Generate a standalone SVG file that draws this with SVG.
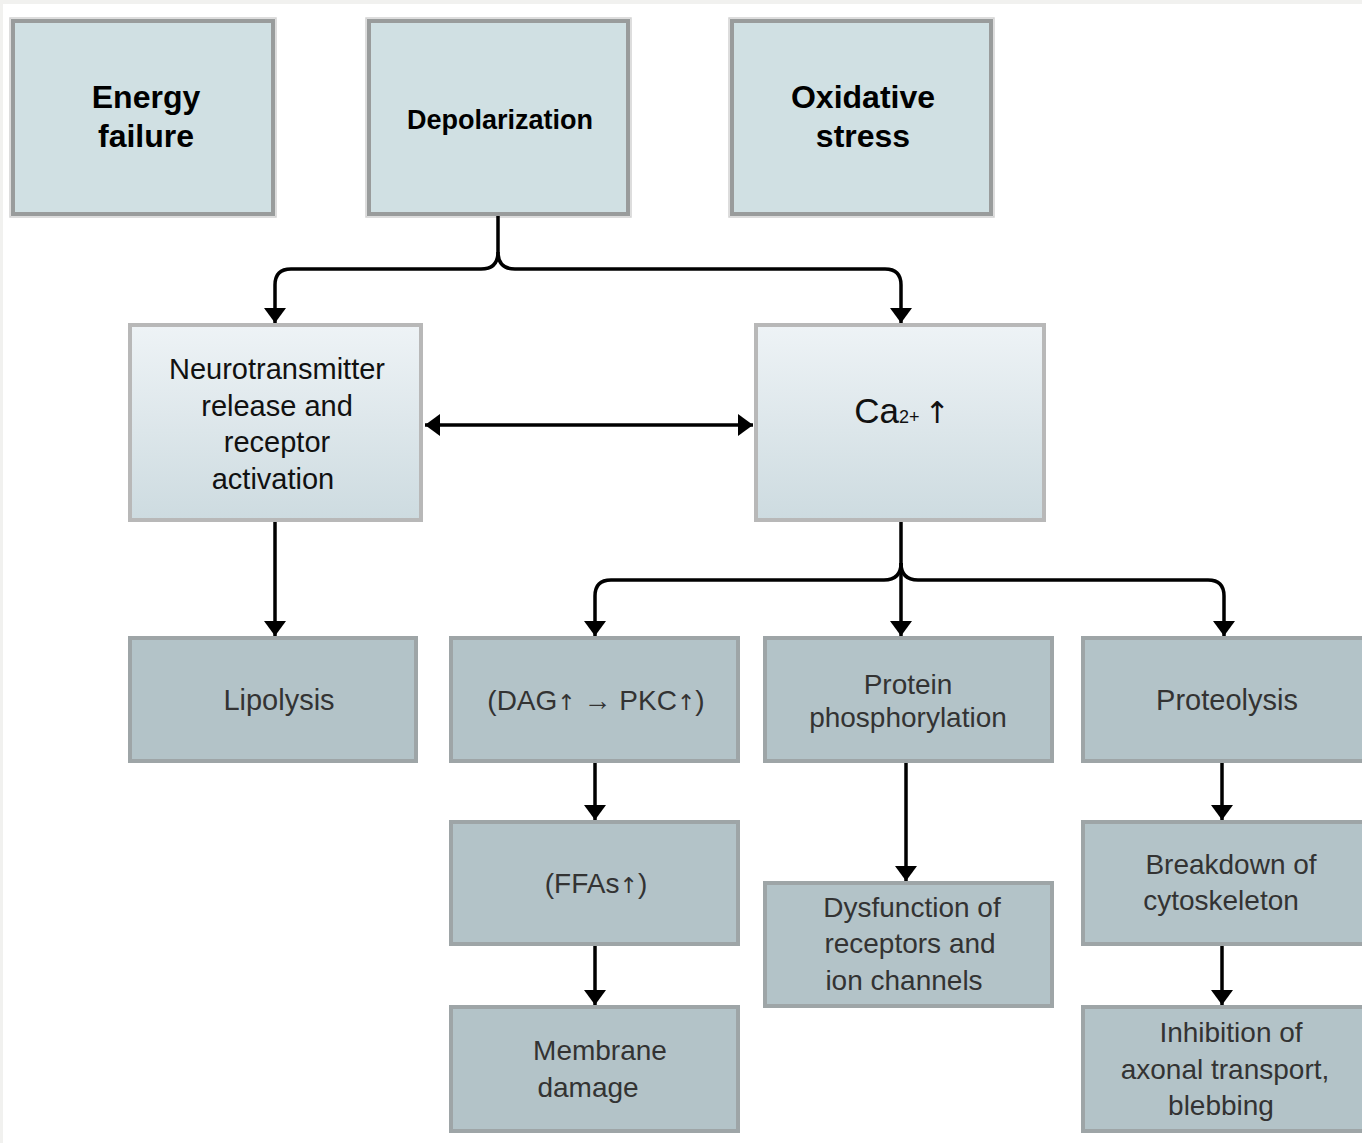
<svg xmlns="http://www.w3.org/2000/svg" width="1362" height="1143" viewBox="0 0 1362 1143">
<defs>
<style>
.top{fill:#d0e0e3;stroke:#999c9c;stroke-width:4}
.halo{fill:none;stroke:#d2d2d2;stroke-width:1.5}
.mid{fill:url(#g);stroke:#b8b8b8;stroke-width:4}
.low{fill:#b3c3c8;stroke:#9ea5a7;stroke-width:4}
.tb{font-family:"Liberation Sans",Arial,sans-serif;font-weight:bold;fill:#000;text-anchor:middle}
.tm{font-family:"Liberation Sans",Arial,sans-serif;fill:#111;text-anchor:middle;font-size:29px}
.tl{font-family:"Liberation Sans",Arial,sans-serif;fill:#333;text-anchor:middle;font-size:28px}
.up{font-family:"DejaVu Sans",sans-serif;font-size:22px}
.c{fill:none;stroke:#000;stroke-width:3.5}
</style>
<linearGradient id="g" x1="0" y1="0" x2="0" y2="1">
<stop offset="0" stop-color="#eef3f6"/>
<stop offset="1" stop-color="#cddbe0"/>
</linearGradient>
<marker id="ah" markerUnits="userSpaceOnUse" viewBox="0 0 15 22" refX="15" refY="11" markerWidth="15" markerHeight="22" orient="auto-start-reverse">
<path d="M0,0 L15,11 L0,22 Z" fill="#000"/>
</marker>
</defs>
<rect x="0" y="0" width="1362" height="1143" fill="#f1f1ef"/>
<rect x="3" y="4" width="1359" height="1139" fill="#ffffff"/>

<g id="energy-failure">
<rect class="halo" x="10" y="18" width="266" height="199"/>
<rect class="top" x="13" y="21" width="260" height="193"/>
<text class="tb" font-size="32" x="146" y="108">Energy</text>
<text class="tb" font-size="32" x="146" y="147">failure</text>
</g>
<g id="depolarization">
<rect class="halo" x="366" y="18" width="265" height="199"/>
<rect class="top" x="369" y="21" width="259" height="193"/>
<text class="tb" font-size="27" x="500" y="129">Depolarization</text>
</g>
<g id="oxidative-stress">
<rect class="halo" x="729" y="18" width="265" height="199"/>
<rect class="top" x="732" y="21" width="259" height="193"/>
<text class="tb" font-size="32" x="863" y="108">Oxidative</text>
<text class="tb" font-size="32" x="863" y="147">stress</text>
</g>

<g id="neurotransmitter">
<rect class="mid" x="130" y="325" width="291" height="195"/>
<text class="tm" x="277" y="379">Neurotransmitter</text>
<text class="tm" x="277" y="416">release and</text>
<text class="tm" x="277" y="452">receptor</text>
<text class="tm" x="273" y="489">activation</text>
</g>
<g id="calcium">
<rect class="mid" x="756" y="325" width="288" height="195"/>
<text class="tm" x="902" y="423" style="font-size:35px"><tspan>Ca</tspan><tspan style="font-size:18px">2+ </tspan><tspan style="font-family:'DejaVu Sans',sans-serif;font-size:30px">↑</tspan></text>
</g>

<g id="lipolysis">
<rect class="low" x="130" y="638" width="286" height="123"/>
<text class="tl" x="279" y="710" style="font-size:29px">Lipolysis</text>
</g>
<g id="dag-pkc">
<rect class="low" x="451" y="638" width="287" height="123"/>
<text class="tl" x="596" y="710">(DAG<tspan class="up">↑</tspan> → PKC<tspan class="up">↑</tspan>)</text>
</g>
<g id="protein-phosphorylation">
<rect class="low" x="765" y="638" width="287" height="123"/>
<text class="tl" x="908" y="694">Protein</text>
<text class="tl" x="908" y="727">phosphorylation</text>
</g>
<g id="proteolysis">
<rect class="low" x="1083" y="638" width="285" height="123"/>
<text class="tl" x="1227" y="710" style="font-size:29px">Proteolysis</text>
</g>
<g id="ffas">
<rect class="low" x="451" y="822" width="287" height="122"/>
<text class="tl" x="596" y="893">(FFAs<tspan class="up">↑</tspan>)</text>
</g>
<g id="membrane-damage">
<rect class="low" x="451" y="1007" width="287" height="124"/>
<text class="tl" x="600" y="1060">Membrane</text>
<text class="tl" x="588" y="1097">damage</text>
</g>
<g id="dysfunction">
<rect class="low" x="765" y="883" width="287" height="123"/>
<text class="tl" x="912" y="917">Dysfunction of</text>
<text class="tl" x="910" y="953">receptors and</text>
<text class="tl" x="904" y="990">ion channels</text>
</g>
<g id="breakdown">
<rect class="low" x="1083" y="822" width="285" height="122"/>
<text class="tl" x="1231" y="874">Breakdown of</text>
<text class="tl" x="1221" y="910">cytoskeleton</text>
</g>
<g id="inhibition">
<rect class="low" x="1083" y="1007" width="285" height="124"/>
<text class="tl" x="1231" y="1042">Inhibition of</text>
<text class="tl" x="1225" y="1079">axonal transport,</text>
<text class="tl" x="1221" y="1115">blebbing</text>
</g>

<g id="connectors">
<path class="c" d="M498,216 V252 Q498,269 481,269 H291 Q275,269 275,285 V323" marker-end="url(#ah)"/>
<path class="c" d="M498,252 Q498,269 515,269 H885 Q901,269 901,285 V323" marker-end="url(#ah)"/>
<path class="c" d="M425,425 H753" marker-start="url(#ah)" marker-end="url(#ah)"/>
<path class="c" d="M275,522 V636" marker-end="url(#ah)"/>
<path class="c" d="M901,522 V636" marker-end="url(#ah)"/>
<path class="c" d="M901,563 Q901,580 884,580 H611 Q595,580 595,596 V636" marker-end="url(#ah)"/>
<path class="c" d="M901,563 Q901,580 918,580 H1208 Q1224,580 1224,596 V636" marker-end="url(#ah)"/>
<path class="c" d="M595,763 V820" marker-end="url(#ah)"/>
<path class="c" d="M595,946 V1005" marker-end="url(#ah)"/>
<path class="c" d="M906,763 V881" marker-end="url(#ah)"/>
<path class="c" d="M1222,763 V820" marker-end="url(#ah)"/>
<path class="c" d="M1222,946 V1005" marker-end="url(#ah)"/>
</g>
</svg>
